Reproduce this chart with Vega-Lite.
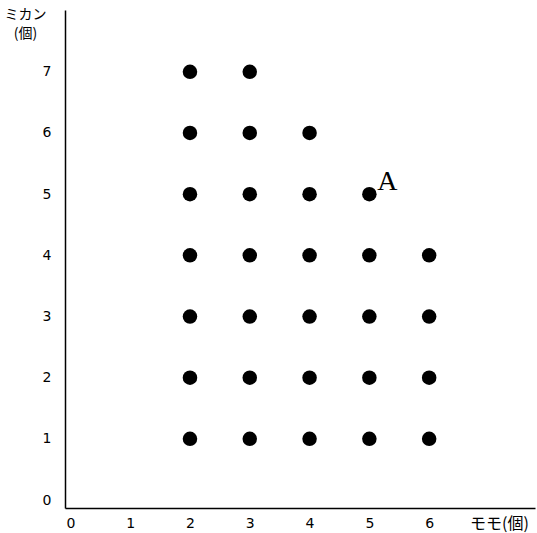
{
  "$schema": "https://vega.github.io/schema/vega-lite/v6.json",
  "width": 470,
  "height": 498,
  "autosize": {"type": "none"},
  "padding": {"left": 65, "top": 10, "right": 2, "bottom": 25},
  "background": "white",
  "config": {"view": {"stroke": null}, "font": "DejaVu Sans"},
  "data": {"values": [
    {"momo": 2, "mikan": 1, "label": ""}, {"momo": 2, "mikan": 2, "label": ""}, {"momo": 2, "mikan": 3, "label": ""}, {"momo": 2, "mikan": 4, "label": ""}, {"momo": 2, "mikan": 5, "label": ""}, {"momo": 2, "mikan": 6, "label": ""}, {"momo": 2, "mikan": 7, "label": ""},
    {"momo": 3, "mikan": 1, "label": ""}, {"momo": 3, "mikan": 2, "label": ""}, {"momo": 3, "mikan": 3, "label": ""}, {"momo": 3, "mikan": 4, "label": ""}, {"momo": 3, "mikan": 5, "label": ""}, {"momo": 3, "mikan": 6, "label": ""}, {"momo": 3, "mikan": 7, "label": ""},
    {"momo": 4, "mikan": 1, "label": ""}, {"momo": 4, "mikan": 2, "label": ""}, {"momo": 4, "mikan": 3, "label": ""}, {"momo": 4, "mikan": 4, "label": ""}, {"momo": 4, "mikan": 5, "label": ""}, {"momo": 4, "mikan": 6, "label": ""},
    {"momo": 5, "mikan": 1, "label": ""}, {"momo": 5, "mikan": 2, "label": ""}, {"momo": 5, "mikan": 3, "label": ""}, {"momo": 5, "mikan": 4, "label": ""}, {"momo": 5, "mikan": 5, "label": "A"},
    {"momo": 6, "mikan": 1, "label": ""}, {"momo": 6, "mikan": 2, "label": ""}, {"momo": 6, "mikan": 3, "label": ""}, {"momo": 6, "mikan": 4, "label": ""}
  ]},
  "encoding": {
    "x": {"field": "momo", "type": "quantitative",
      "scale": {"domain": [-0.09, 7.77], "nice": false, "zero": false},
      "axis": {"values": [0,1,2,3,4,5,6], "grid": false, "ticks": false, "domainColor": "black", "domainWidth": 1.5,
        "labelColor": "black", "labelFontSize": 14, "labelPadding": 8, "labelFont": "DejaVu Sans",
        "title": "モモ(個)", "titleFont": "Noto Sans CJK JP", "titleFontWeight": "normal", "titleFontSize": 16, "titleColor": "black",
        "titleX": 434, "titleY": 15, "titleAlign": "center", "titleBaseline": "middle"}},
    "y": {"field": "mikan", "type": "quantitative",
      "scale": {"domain": [-0.13, 8.01], "nice": false, "zero": false},
      "axis": {"values": [0,1,2,3,4,5,6,7], "grid": false, "ticks": false, "domainColor": "black", "domainWidth": 1.5,
        "labelColor": "black", "labelFontSize": 14, "labelPadding": 14, "labelFont": "DejaVu Sans",
        "title": ["ミカン", "(個)"], "titleFont": "Noto Sans CJK JP", "titleFontWeight": "normal", "titleFontSize": 14, "titleColor": "black",
        "titleAngle": 0, "titleX": -40, "titleY": -3, "titleAlign": "center", "titleBaseline": "top", "titleLineHeight": 19}}
  },
  "layer": [
    {"mark": {"type": "point", "filled": true, "color": "black", "opacity": 1, "size": 210}},
    {"mark": {"type": "text", "font": "Liberation Serif", "fontSize": 28, "color": "black", "align": "left", "baseline": "alphabetic", "dx": 8, "dy": -4},
     "encoding": {"text": {"field": "label"}}}
  ]
}
